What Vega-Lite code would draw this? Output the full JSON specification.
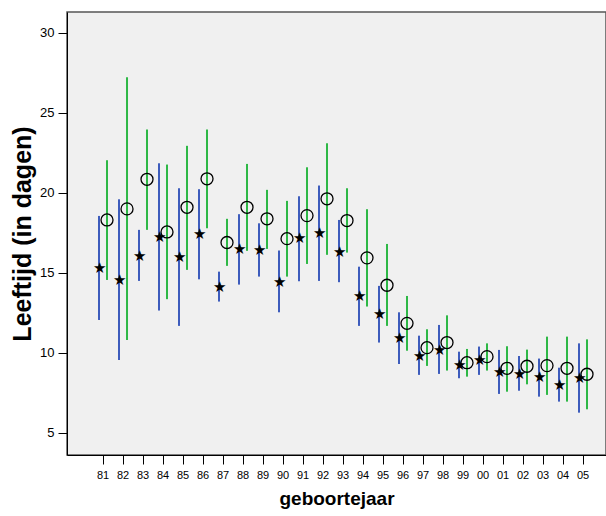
{
  "$schema": "https://vega.github.io/schema/vega-lite/v6.json",
  "width": 539,
  "height": 443,
  "autosize": {"type": "none"},
  "padding": {"left": 67, "top": 12, "right": 0, "bottom": 61},
  "background": "white",
  "config": {
    "view": {"fill": "#f0f0f0", "stroke": "#555555", "strokeWidth": 1.5}
  },
  "data": {
    "values": [
      {"jaar": "81", "groep": "A", "gem": 15.29, "laag": 12.06, "hoog": 18.56},
      {"jaar": "81", "groep": "B", "gem": 18.31, "laag": 14.56, "hoog": 22.04},
      {"jaar": "82", "groep": "A", "gem": 14.56, "laag": 9.56, "hoog": 19.6},
      {"jaar": "82", "groep": "B", "gem": 19.0, "laag": 10.81, "hoog": 27.23},
      {"jaar": "83", "groep": "A", "gem": 16.08, "laag": 14.5, "hoog": 17.69},
      {"jaar": "83", "groep": "B", "gem": 20.85, "laag": 17.69, "hoog": 23.96},
      {"jaar": "84", "groep": "A", "gem": 17.27, "laag": 12.65, "hoog": 21.85},
      {"jaar": "84", "groep": "B", "gem": 17.56, "laag": 13.36, "hoog": 21.77},
      {"jaar": "85", "groep": "A", "gem": 15.98, "laag": 11.69, "hoog": 20.29},
      {"jaar": "85", "groep": "B", "gem": 19.1, "laag": 15.19, "hoog": 22.94},
      {"jaar": "86", "groep": "A", "gem": 17.42, "laag": 14.6, "hoog": 20.23},
      {"jaar": "86", "groep": "B", "gem": 20.88, "laag": 17.79, "hoog": 23.96},
      {"jaar": "87", "groep": "A", "gem": 14.15, "laag": 13.21, "hoog": 15.08},
      {"jaar": "87", "groep": "B", "gem": 16.9, "laag": 15.44, "hoog": 18.38},
      {"jaar": "88", "groep": "A", "gem": 16.48, "laag": 14.27, "hoog": 18.67},
      {"jaar": "88", "groep": "B", "gem": 19.1, "laag": 16.38, "hoog": 21.81},
      {"jaar": "89", "groep": "A", "gem": 16.44, "laag": 14.77, "hoog": 18.1},
      {"jaar": "89", "groep": "B", "gem": 18.38, "laag": 16.5, "hoog": 20.19},
      {"jaar": "90", "groep": "A", "gem": 14.46, "laag": 12.54, "hoog": 16.4},
      {"jaar": "90", "groep": "B", "gem": 17.14, "laag": 14.77, "hoog": 19.5},
      {"jaar": "91", "groep": "A", "gem": 17.17, "laag": 14.48, "hoog": 19.79},
      {"jaar": "91", "groep": "B", "gem": 18.58, "laag": 15.56, "hoog": 21.6},
      {"jaar": "92", "groep": "A", "gem": 17.48, "laag": 14.5, "hoog": 20.46},
      {"jaar": "92", "groep": "B", "gem": 19.63, "laag": 16.13, "hoog": 23.1},
      {"jaar": "93", "groep": "A", "gem": 16.33, "laag": 14.42, "hoog": 18.31},
      {"jaar": "93", "groep": "B", "gem": 18.27, "laag": 16.27, "hoog": 20.29},
      {"jaar": "94", "groep": "A", "gem": 13.56, "laag": 11.69, "hoog": 15.39},
      {"jaar": "94", "groep": "B", "gem": 15.94, "laag": 12.9, "hoog": 18.98},
      {"jaar": "95", "groep": "A", "gem": 12.42, "laag": 10.65, "hoog": 14.19},
      {"jaar": "95", "groep": "B", "gem": 14.23, "laag": 11.69, "hoog": 16.81},
      {"jaar": "96", "groep": "A", "gem": 10.92, "laag": 9.31, "hoog": 12.54},
      {"jaar": "96", "groep": "B", "gem": 11.85, "laag": 10.14, "hoog": 13.56},
      {"jaar": "97", "groep": "A", "gem": 9.81, "laag": 8.63, "hoog": 11.08},
      {"jaar": "97", "groep": "B", "gem": 10.33, "laag": 9.19, "hoog": 11.48},
      {"jaar": "98", "groep": "A", "gem": 10.19, "laag": 8.69, "hoog": 11.75},
      {"jaar": "98", "groep": "B", "gem": 10.65, "laag": 8.9, "hoog": 12.35},
      {"jaar": "99", "groep": "A", "gem": 9.25, "laag": 8.42, "hoog": 10.08},
      {"jaar": "99", "groep": "B", "gem": 9.39, "laag": 8.52, "hoog": 10.25},
      {"jaar": "00", "groep": "A", "gem": 9.56, "laag": 8.63, "hoog": 10.4},
      {"jaar": "00", "groep": "B", "gem": 9.77, "laag": 8.9, "hoog": 10.6},
      {"jaar": "01", "groep": "A", "gem": 8.79, "laag": 7.44, "hoog": 10.19},
      {"jaar": "01", "groep": "B", "gem": 9.04, "laag": 7.58, "hoog": 10.42},
      {"jaar": "02", "groep": "A", "gem": 8.69, "laag": 7.64, "hoog": 9.81},
      {"jaar": "02", "groep": "B", "gem": 9.17, "laag": 8.04, "hoog": 10.21},
      {"jaar": "03", "groep": "A", "gem": 8.48, "laag": 7.27, "hoog": 9.65},
      {"jaar": "03", "groep": "B", "gem": 9.21, "laag": 7.38, "hoog": 11.02},
      {"jaar": "04", "groep": "A", "gem": 8.0, "laag": 6.96, "hoog": 9.08},
      {"jaar": "04", "groep": "B", "gem": 9.04, "laag": 6.96, "hoog": 11.02},
      {"jaar": "05", "groep": "A", "gem": 8.42, "laag": 6.27, "hoog": 10.6},
      {"jaar": "05", "groep": "B", "gem": 8.67, "laag": 6.48, "hoog": 10.85}
    ]
  },
  "layer": [
    {
      "transform": [{"filter": "datum.groep === 'A'"}],
      "mark": {"type": "rule", "strokeWidth": 2, "color": "#3d5cbc", "xOffset": -4},
      "encoding": {
        "x": {
          "field": "jaar",
          "type": "ordinal",
          "scale": {
            "domain": ["81","82","83","84","85","86","87","88","89","90","91","92","93","94","95","96","97","98","99","00","01","02","03","04","05"],
            "paddingInner": 0, "paddingOuter": 0.975, "align": 0.667
          },
          "axis": {
            "title": "geboortejaar",
            "titleFontSize": 19,
            "titleColor": "black",
            "titlePadding": 9,
            "labelFontSize": 11,
            "labelAngle": 0,
            "labelColor": "black",
            "labelPadding": 5,
            "tickSize": 9,
            "tickColor": "black",
            "domainColor": "black"
          }
        },
        "y": {
          "field": "laag",
          "type": "quantitative",
          "scale": {"domain": [3.625, 31.3], "nice": false, "zero": false},
          "axis": {
            "title": "Leeftijd (in dagen)",
            "titleFontSize": 25,
            "titleColor": "black",
            "titlePadding": 4,
            "values": [5, 10, 15, 20, 25, 30],
            "grid": false,
            "labelFontSize": 13,
            "labelColor": "black",
            "labelPadding": 4,
            "tickSize": 9,
            "tickColor": "black",
            "domainColor": "black"
          }
        },
        "y2": {"field": "hoog"}
      }
    },
    {
      "transform": [{"filter": "datum.groep === 'B'"}],
      "mark": {"type": "rule", "strokeWidth": 2, "color": "#2eb846", "xOffset": 4},
      "encoding": {
        "x": {"field": "jaar", "type": "ordinal"},
        "y": {"field": "laag", "type": "quantitative"},
        "y2": {"field": "hoog"}
      }
    },
    {
      "transform": [{"filter": "datum.groep === 'A'"}],
      "mark": {"type": "text", "text": "★", "fontSize": 15, "color": "black", "xOffset": -4},
      "encoding": {
        "x": {"field": "jaar", "type": "ordinal"},
        "y": {"field": "gem", "type": "quantitative"}
      }
    },
    {
      "transform": [{"filter": "datum.groep === 'B'"}],
      "mark": {"type": "point", "color": "black", "filled": false, "size": 144, "strokeWidth": 1.3, "opacity": 1, "xOffset": 4},
      "encoding": {
        "x": {"field": "jaar", "type": "ordinal"},
        "y": {"field": "gem", "type": "quantitative"}
      }
    }
  ]
}
